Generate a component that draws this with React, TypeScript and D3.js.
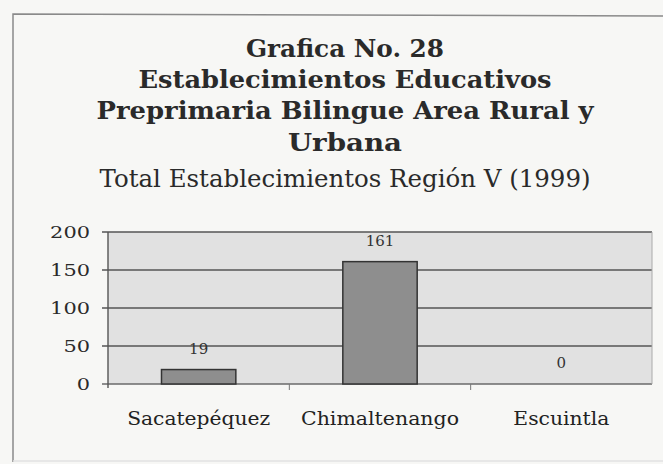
import React from "react";
import * as d3 from "d3";

const categories = ["Sacatepéquez", "Chimaltenango", "Escuintla"];
const values = [19, 161, 0];
const yTicks = [0, 50, 100, 150, 200];
const titleLines = [
  "Grafica No. 28",
  "Establecimientos Educativos",
  "Preprimaria Bilingue Area Rural y",
  "Urbana",
];
const subtitle = "Total Establecimientos Región V (1999)";

export default function App() {
  const W = 663;
  const H = 464;
  const plot = { left: 108, right: 652, top: 232, bottom: 384 };
  const x = d3
    .scaleBand<string>()
    .domain(categories)
    .range([plot.left, plot.right])
    .paddingInner(0.59)
    .paddingOuter(0.295);
  const xb = d3.scaleBand<string>().domain(categories).range([plot.left, plot.right]);
  const y = d3.scaleLinear().domain([0, 200]).range([plot.bottom, plot.top]);

  const titleBase = [57, 88, 119, 151];
  const titleWidths = [198, 413, 497, 114];
  const cx = 345;
  const catWidths = [143, 158, 96];

  return (
    <svg
      width={W}
      height={H}
      style={{ position: "absolute", left: 0, top: 0, background: "#f7f7f5" }}
    >
      <rect x={0} y={0} width={W} height={H} fill="#f7f7f5" />
      {/* outer frame */}
      <path
        d={`M13,462 L13,14 L${W},16`}
        fill="none"
        stroke="#8a8a8a"
        strokeWidth={1.5}
      />
      <line x1={13} y1={461} x2={W} y2={461} stroke="#e2e2e2" strokeWidth={1.5} />

      {titleLines.map((t, i) => (
        <text
          key={t}
          x={cx}
          y={titleBase[i]}
          textAnchor="middle"
          fontFamily="'DejaVu Serif', serif"
          fontWeight="bold"
          fontSize={25}
          fill="#2a2a2a"
          textLength={titleWidths[i]}
          lengthAdjust="spacingAndGlyphs"
        >
          {t}
        </text>
      ))}
      <text
        x={cx}
        y={187}
        textAnchor="middle"
        fontFamily="'DejaVu Serif', serif"
        fontSize={25}
        fill="#2a2a2a"
        textLength={491}
        lengthAdjust="spacingAndGlyphs"
      >
        {subtitle}
      </text>

      {/* plot area */}
      <rect
        x={plot.left}
        y={plot.top}
        width={plot.right - plot.left}
        height={plot.bottom - plot.top}
        fill="#e1e1e1"
      />
      {yTicks.map((t) => (
        <g key={t}>
          <line
            x1={plot.left - 6}
            x2={plot.right}
            y1={y(t)}
            y2={y(t)}
            stroke={t === 0 ? "#6a6a6a" : "#555"}
            strokeWidth={1.4}
          />
          <text
            x={90}
            y={y(t)}
            dy="0.36em"
            textAnchor="end"
            fontFamily="'DejaVu Serif', serif"
            fontSize={17}
            fill="#2a2a2a"
            textLength={String(t).length * 13.3}
            lengthAdjust="spacingAndGlyphs"
          >
            {t}
          </text>
        </g>
      ))}
      <line
        x1={plot.left}
        x2={plot.left}
        y1={plot.top}
        y2={plot.bottom + 4}
        stroke="#555"
        strokeWidth={1.4}
      />
      <line
        x1={plot.right}
        x2={plot.right}
        y1={plot.top}
        y2={plot.bottom}
        stroke="#aaa"
        strokeWidth={1}
      />
      {categories.slice(1).map((c) => (
        <line
          key={c}
          x1={xb(c)!}
          x2={xb(c)!}
          y1={plot.bottom}
          y2={plot.bottom + 6}
          stroke="#777"
          strokeWidth={1}
        />
      ))}

      {categories.map((c, i) => {
        const bx = x(c)!;
        const by = y(values[i]);
        const bh = plot.bottom - by;
        return (
          <g key={c}>
            {bh > 0 && (
              <rect
                x={bx}
                y={by}
                width={x.bandwidth()}
                height={bh}
                fill="#8e8e8e"
                stroke="#333"
                strokeWidth={1.5}
              />
            )}
            <text
              x={bx + x.bandwidth() / 2}
              y={by - 16}
              textAnchor="middle"
              fontFamily="'DejaVu Serif', serif"
              fontSize={15}
              fill="#333"
            >
              {values[i]}
            </text>
            <text
              x={bx + x.bandwidth() / 2}
              y={425}
              textAnchor="middle"
              fontFamily="'DejaVu Serif', serif"
              fontSize={19}
              fill="#222"
              textLength={catWidths[i]}
              lengthAdjust="spacingAndGlyphs"
            >
              {c}
            </text>
          </g>
        );
      })}
    </svg>
  );
}
